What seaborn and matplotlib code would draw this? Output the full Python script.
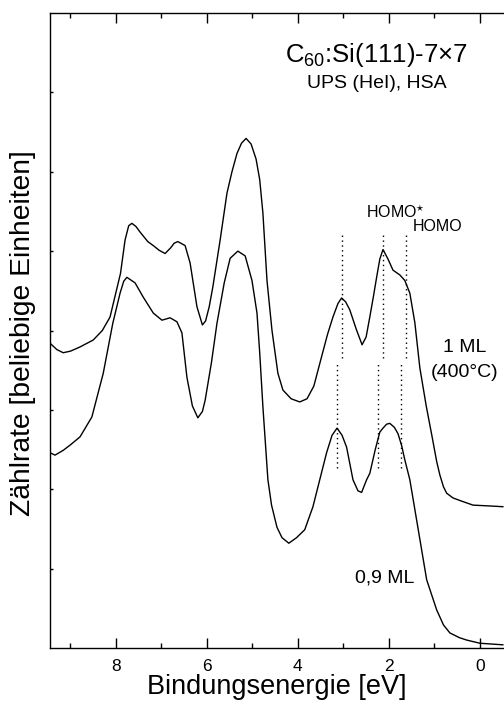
import numpy as np
import pandas as pd
import matplotlib
matplotlib.use("Agg")
import matplotlib.pyplot as plt
import seaborn as sns

# Binding energy (eV) and intensity (arb. units)
e_1ml = [9.45, 9.30, 9.16, 9.00, 8.80, 8.50, 8.30, 8.13, 7.90, 7.80, 7.72, 7.65, 7.56, 7.47,
         7.30, 7.18, 7.05, 6.92, 6.80, 6.72, 6.64, 6.48, 6.37, 6.22, 6.10, 6.03, 5.95, 5.87,
         5.71, 5.56, 5.45, 5.34, 5.24, 5.14, 5.03, 4.92, 4.84, 4.77, 4.68, 4.57, 4.44, 4.33,
         4.15, 3.96, 3.80, 3.65, 3.48, 3.35, 3.23, 3.12, 3.04, 2.95, 2.86, 2.72, 2.59, 2.50,
         2.42, 2.34, 2.27, 2.20, 2.13, 2.02, 1.91, 1.76, 1.65, 1.54, 1.43, 1.32, 1.18, 1.05,
         0.95, 0.88, 0.80, 0.73, 0.59, 0.40, 0.15, -0.20, -0.51]
i_1ml = [3.84, 3.76, 3.72, 3.74, 3.79, 3.88, 4.00, 4.17, 4.72, 5.14, 5.32, 5.35, 5.31, 5.24,
         5.12, 5.07, 5.01, 4.97, 5.04, 5.10, 5.12, 5.07, 4.85, 4.30, 4.07, 4.12, 4.30, 4.55,
         5.14, 5.73, 6.00, 6.23, 6.36, 6.42, 6.35, 6.16, 5.90, 5.48, 4.63, 4.00, 3.46, 3.25,
         3.14, 3.10, 3.14, 3.30, 3.67, 3.95, 4.17, 4.34, 4.41, 4.36, 4.26, 4.02, 3.82, 3.92,
         4.17, 4.43, 4.67, 4.90, 5.02, 4.90, 4.76, 4.70, 4.63, 4.47, 4.10, 3.53, 3.05, 2.66,
         2.35, 2.18, 2.03, 1.95, 1.89, 1.85, 1.80, 1.79, 1.78]

e_09ml = [9.45, 9.34, 9.16, 9.00, 8.79, 8.53, 8.28, 8.07, 7.91, 7.83, 7.76, 7.58, 7.40, 7.18,
          6.99, 6.81, 6.66, 6.55, 6.44, 6.32, 6.20, 6.10, 6.04, 5.90, 5.78, 5.62, 5.49, 5.32,
          5.16, 5.01, 4.90, 4.84, 4.77, 4.66, 4.58, 4.46, 4.35, 4.20, 4.03, 3.85, 3.67, 3.52,
          3.37, 3.25, 3.14, 3.03, 2.93, 2.79, 2.68, 2.60, 2.49, 2.42, 2.30, 2.20, 2.13, 2.05,
          1.98, 1.88, 1.80, 1.72, 1.65, 1.54, 1.39, 1.17, 0.95, 0.80, 0.66, 0.45, 0.29, 0.00,
          -0.51]
i_09ml = [2.46, 2.43, 2.49, 2.56, 2.66, 2.91, 3.46, 4.09, 4.47, 4.62, 4.67, 4.60, 4.42, 4.22,
          4.13, 4.16, 4.11, 3.97, 3.41, 3.05, 2.90, 2.98, 3.12, 3.60, 4.09, 4.60, 4.91, 5.00,
          4.94, 4.63, 4.22, 3.72, 3.04, 2.12, 1.80, 1.52, 1.39, 1.32, 1.39, 1.49, 1.78, 2.12,
          2.46, 2.68, 2.77, 2.68, 2.53, 2.12, 1.98, 1.96, 2.12, 2.20, 2.50, 2.72, 2.77, 2.82,
          2.83, 2.78, 2.70, 2.55, 2.37, 2.12, 1.61, 0.86, 0.48, 0.29, 0.19, 0.13, 0.10, 0.06,
          0.04]

# HOMO / HOMO* marker positions (eV)
marks_1ml = [3.03, 2.13, 1.63]
marks_09ml = [3.14, 2.24, 1.74]

xticks = [8, 6, 4, 2, 0]

sns.set_theme(style="ticks")
plt.rcParams['font.family'] = ['Liberation Sans', 'DejaVu Sans']
plt.rcParams['text.color'] = 'black'
plt.rcParams['axes.labelcolor'] = 'black'
plt.rcParams['xtick.color'] = 'black'
plt.rcParams['ytick.color'] = 'black'
plt.rcParams['mathtext.fontset'] = 'custom'
plt.rcParams['mathtext.rm'] = 'Liberation Sans'

fig = plt.figure(figsize=(5.04, 7.09), dpi=100)
ax = fig.add_axes([50/504, 1 - 648/709, (504 - 50)/504, (648 - 13)/709])

df1 = pd.DataFrame({"E": e_1ml, "I": i_1ml})
df2 = pd.DataFrame({"E": e_09ml, "I": i_09ml})
sns.lineplot(data=df1, x="E", y="I", ax=ax, color="black", lw=1.0, sort=False)
sns.lineplot(data=df2, x="E", y="I", ax=ax, color="black", lw=1.0, sort=False)

ax.vlines(marks_1ml, 3.65, 5.2, colors="black", linestyles=(0, (1, 2.5)), lw=1.0)
ax.vlines(marks_09ml, 2.27, 3.59, colors="black", linestyles=(0, (1, 2.5)), lw=1.0)

ax.set_xlim(9.45, -0.53)
ax.set_ylim(0, 8)
ax.set_xticks(xticks)
ax.set_xticklabels([str(t) for t in xticks], fontsize=12.5)
ax.set_xticks([9, 7, 5, 3, 1], minor=True)
ax.set_yticks([1, 2, 3, 4, 5, 6, 7])
ax.set_yticklabels([])
ax.tick_params(axis="x", which="major", direction="in", length=7, width=1, top=True, pad=8)
ax.tick_params(axis="x", which="minor", direction="in", length=3.5, width=1, top=True)
ax.tick_params(axis="y", which="major", direction="in", length=2.5, width=1, right=False)
for s in ["left", "bottom", "top"]:
    ax.spines[s].set_linewidth(1.0)
    ax.spines[s].set_color("black")
ax.spines["right"].set_visible(False)

ax.set_xlabel("Bindungsenergie [eV]", fontsize=19.5, labelpad=0)
ax.set_ylabel("")
fig.text(23/504, 1 - 333/709, "Zählrate [beliebige Einheiten]", rotation=90,
         ha="center", va="center", fontsize=20.3)

ax.text(376/504, 1 - 55/709, r"C$_{60}$:Si(111)-7×7", transform=fig.transFigure,
        ha="center", va="center", fontsize=18.5)
ax.text(377/504, 1 - 83/709, "UPS (HeI), HSA", transform=fig.transFigure,
        ha="center", va="center", fontsize=14)
ax.text(366/504, 1 - 212/709, "HOMO$^{\\star}$", transform=fig.transFigure,
        ha="left", va="center", fontsize=11.5)
ax.text(413/504, 1 - 227/709, "HOMO", transform=fig.transFigure,
        ha="left", va="center", fontsize=11.5)
ax.text(465/504, 1 - 347/709, "1 ML", transform=fig.transFigure,
        ha="center", va="center", fontsize=14)
ax.text(465/504, 1 - 373/709, "(400°C)", transform=fig.transFigure,
        ha="center", va="center", fontsize=14)
ax.text(385/504, 1 - 578/709, "0,9 ML", transform=fig.transFigure,
        ha="center", va="center", fontsize=14)

fig.savefig("out.png", dpi=100)
